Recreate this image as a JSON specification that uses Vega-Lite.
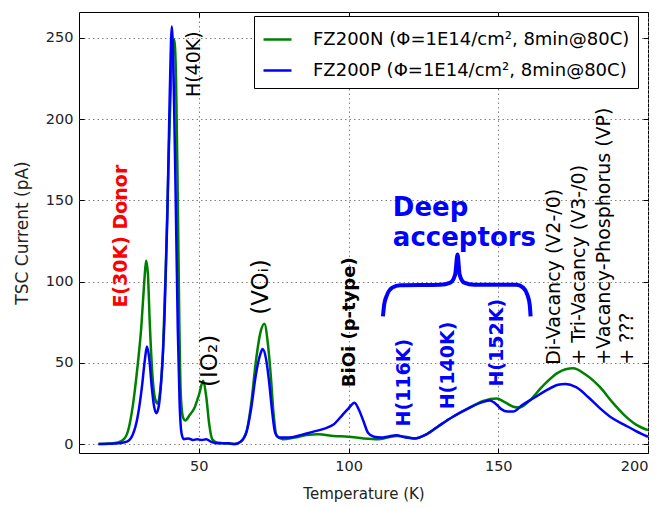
{
  "$schema": "https://vega.github.io/schema/vega-lite/v6.json",
  "width": 569,
  "height": 441,
  "autosize": {"type": "none"},
  "padding": {"left": 79, "top": 12, "right": 17, "bottom": 55},
  "config": {
    "view": {"stroke": "#000", "strokeWidth": 1},
    "font": "DejaVu Sans",
    "axis": {
      "labelFont": "DejaVu Sans", "labelFontSize": 14.5, "labelColor": "#222",
      "titleFont": "DejaVu Sans", "titleFontSize": 15, "titleFontWeight": "normal", "titleColor": "#222",
      "domain": false, "tickColor": "#000", "tickSize": -5, "tickWidth": 1,
      "gridColor": "#808080", "gridDash": [1.5, 3], "gridWidth": 1
    }
  },
  "datasets": {
    "tsc": [
      {"T":16.5,"I":0,"s":"FZ200N (Φ=1E14/cm², 8min@80C)"},{"T":20,"I":0.3,"s":"FZ200N (Φ=1E14/cm², 8min@80C)"},{"T":23,"I":1,"s":"FZ200N (Φ=1E14/cm², 8min@80C)"},{"T":25,"I":3,"s":"FZ200N (Φ=1E14/cm², 8min@80C)"},{"T":26.5,"I":9,"s":"FZ200N (Φ=1E14/cm², 8min@80C)"},{"T":28,"I":24,"s":"FZ200N (Φ=1E14/cm², 8min@80C)"},{"T":29.5,"I":47,"s":"FZ200N (Φ=1E14/cm², 8min@80C)"},{"T":30.8,"I":72,"s":"FZ200N (Φ=1E14/cm², 8min@80C)"},{"T":31.8,"I":100,"s":"FZ200N (Φ=1E14/cm², 8min@80C)"},{"T":32.4,"I":113,"s":"FZ200N (Φ=1E14/cm², 8min@80C)"},{"T":33,"I":105,"s":"FZ200N (Φ=1E14/cm², 8min@80C)"},{"T":33.6,"I":76,"s":"FZ200N (Φ=1E14/cm², 8min@80C)"},{"T":34.5,"I":43,"s":"FZ200N (Φ=1E14/cm², 8min@80C)"},{"T":35.4,"I":28,"s":"FZ200N (Φ=1E14/cm², 8min@80C)"},{"T":36.2,"I":25,"s":"FZ200N (Φ=1E14/cm², 8min@80C)"},{"T":37,"I":31,"s":"FZ200N (Φ=1E14/cm², 8min@80C)"},{"T":38,"I":55,"s":"FZ200N (Φ=1E14/cm², 8min@80C)"},{"T":39,"I":110,"s":"FZ200N (Φ=1E14/cm², 8min@80C)"},{"T":40,"I":180,"s":"FZ200N (Φ=1E14/cm², 8min@80C)"},{"T":41,"I":235,"s":"FZ200N (Φ=1E14/cm², 8min@80C)"},{"T":41.8,"I":249,"s":"FZ200N (Φ=1E14/cm², 8min@80C)"},{"T":42.4,"I":225,"s":"FZ200N (Φ=1E14/cm², 8min@80C)"},{"T":43,"I":150,"s":"FZ200N (Φ=1E14/cm², 8min@80C)"},{"T":43.5,"I":75,"s":"FZ200N (Φ=1E14/cm², 8min@80C)"},{"T":44,"I":30,"s":"FZ200N (Φ=1E14/cm², 8min@80C)"},{"T":44.8,"I":16,"s":"FZ200N (Φ=1E14/cm², 8min@80C)"},{"T":45.5,"I":14.5,"s":"FZ200N (Φ=1E14/cm², 8min@80C)"},{"T":47,"I":18,"s":"FZ200N (Φ=1E14/cm², 8min@80C)"},{"T":48.5,"I":22,"s":"FZ200N (Φ=1E14/cm², 8min@80C)"},{"T":50,"I":30,"s":"FZ200N (Φ=1E14/cm², 8min@80C)"},{"T":51.5,"I":39,"s":"FZ200N (Φ=1E14/cm², 8min@80C)"},{"T":52.5,"I":29,"s":"FZ200N (Φ=1E14/cm², 8min@80C)"},{"T":53.5,"I":12,"s":"FZ200N (Φ=1E14/cm², 8min@80C)"},{"T":54.5,"I":3,"s":"FZ200N (Φ=1E14/cm², 8min@80C)"},{"T":56,"I":1,"s":"FZ200N (Φ=1E14/cm², 8min@80C)"},{"T":58,"I":0.5,"s":"FZ200N (Φ=1E14/cm², 8min@80C)"},{"T":62,"I":0,"s":"FZ200N (Φ=1E14/cm², 8min@80C)"},{"T":64,"I":1.5,"s":"FZ200N (Φ=1E14/cm², 8min@80C)"},{"T":66,"I":8,"s":"FZ200N (Φ=1E14/cm², 8min@80C)"},{"T":67.5,"I":25,"s":"FZ200N (Φ=1E14/cm², 8min@80C)"},{"T":69,"I":50,"s":"FZ200N (Φ=1E14/cm², 8min@80C)"},{"T":70.5,"I":68,"s":"FZ200N (Φ=1E14/cm², 8min@80C)"},{"T":71.9,"I":74,"s":"FZ200N (Φ=1E14/cm², 8min@80C)"},{"T":73,"I":63,"s":"FZ200N (Φ=1E14/cm², 8min@80C)"},{"T":74,"I":43,"s":"FZ200N (Φ=1E14/cm², 8min@80C)"},{"T":75,"I":18,"s":"FZ200N (Φ=1E14/cm², 8min@80C)"},{"T":76,"I":5,"s":"FZ200N (Φ=1E14/cm², 8min@80C)"},{"T":78,"I":3,"s":"FZ200N (Φ=1E14/cm², 8min@80C)"},{"T":82,"I":4,"s":"FZ200N (Φ=1E14/cm², 8min@80C)"},{"T":86,"I":5.5,"s":"FZ200N (Φ=1E14/cm², 8min@80C)"},{"T":90,"I":6,"s":"FZ200N (Φ=1E14/cm², 8min@80C)"},{"T":95,"I":5,"s":"FZ200N (Φ=1E14/cm², 8min@80C)"},{"T":100,"I":4.5,"s":"FZ200N (Φ=1E14/cm², 8min@80C)"},{"T":105,"I":3.5,"s":"FZ200N (Φ=1E14/cm², 8min@80C)"},{"T":110,"I":3,"s":"FZ200N (Φ=1E14/cm², 8min@80C)"},{"T":113,"I":4,"s":"FZ200N (Φ=1E14/cm², 8min@80C)"},{"T":116,"I":5,"s":"FZ200N (Φ=1E14/cm², 8min@80C)"},{"T":119,"I":4.5,"s":"FZ200N (Φ=1E14/cm², 8min@80C)"},{"T":122,"I":3.5,"s":"FZ200N (Φ=1E14/cm², 8min@80C)"},{"T":126,"I":6,"s":"FZ200N (Φ=1E14/cm², 8min@80C)"},{"T":130,"I":11,"s":"FZ200N (Φ=1E14/cm², 8min@80C)"},{"T":135,"I":17,"s":"FZ200N (Φ=1E14/cm², 8min@80C)"},{"T":140,"I":22,"s":"FZ200N (Φ=1E14/cm², 8min@80C)"},{"T":145,"I":26.5,"s":"FZ200N (Φ=1E14/cm², 8min@80C)"},{"T":149.5,"I":28,"s":"FZ200N (Φ=1E14/cm², 8min@80C)"},{"T":152,"I":26,"s":"FZ200N (Φ=1E14/cm², 8min@80C)"},{"T":155,"I":23,"s":"FZ200N (Φ=1E14/cm², 8min@80C)"},{"T":157,"I":22.5,"s":"FZ200N (Φ=1E14/cm², 8min@80C)"},{"T":160,"I":26,"s":"FZ200N (Φ=1E14/cm², 8min@80C)"},{"T":165,"I":36,"s":"FZ200N (Φ=1E14/cm², 8min@80C)"},{"T":170,"I":44,"s":"FZ200N (Φ=1E14/cm², 8min@80C)"},{"T":175,"I":46.6,"s":"FZ200N (Φ=1E14/cm², 8min@80C)"},{"T":179,"I":43,"s":"FZ200N (Φ=1E14/cm², 8min@80C)"},{"T":184,"I":35,"s":"FZ200N (Φ=1E14/cm², 8min@80C)"},{"T":188,"I":26,"s":"FZ200N (Φ=1E14/cm², 8min@80C)"},{"T":192,"I":18,"s":"FZ200N (Φ=1E14/cm², 8min@80C)"},{"T":196,"I":12,"s":"FZ200N (Φ=1E14/cm², 8min@80C)"},{"T":200,"I":8.6,"s":"FZ200N (Φ=1E14/cm², 8min@80C)"},
      {"T":16.5,"I":0,"s":"FZ200P (Φ=1E14/cm², 8min@80C)"},{"T":20,"I":0.2,"s":"FZ200P (Φ=1E14/cm², 8min@80C)"},{"T":23,"I":0.5,"s":"FZ200P (Φ=1E14/cm², 8min@80C)"},{"T":26,"I":1.5,"s":"FZ200P (Φ=1E14/cm², 8min@80C)"},{"T":28,"I":6,"s":"FZ200P (Φ=1E14/cm², 8min@80C)"},{"T":29.5,"I":16,"s":"FZ200P (Φ=1E14/cm², 8min@80C)"},{"T":31,"I":35,"s":"FZ200P (Φ=1E14/cm², 8min@80C)"},{"T":32,"I":52,"s":"FZ200P (Φ=1E14/cm², 8min@80C)"},{"T":32.7,"I":60,"s":"FZ200P (Φ=1E14/cm², 8min@80C)"},{"T":33.5,"I":52,"s":"FZ200P (Φ=1E14/cm², 8min@80C)"},{"T":34.3,"I":35,"s":"FZ200P (Φ=1E14/cm², 8min@80C)"},{"T":35,"I":24,"s":"FZ200P (Φ=1E14/cm², 8min@80C)"},{"T":35.8,"I":19,"s":"FZ200P (Φ=1E14/cm², 8min@80C)"},{"T":36.5,"I":22,"s":"FZ200P (Φ=1E14/cm², 8min@80C)"},{"T":37.5,"I":40,"s":"FZ200P (Φ=1E14/cm², 8min@80C)"},{"T":38.5,"I":75,"s":"FZ200P (Φ=1E14/cm², 8min@80C)"},{"T":39.5,"I":140,"s":"FZ200P (Φ=1E14/cm², 8min@80C)"},{"T":40.3,"I":215,"s":"FZ200P (Φ=1E14/cm², 8min@80C)"},{"T":41,"I":257,"s":"FZ200P (Φ=1E14/cm², 8min@80C)"},{"T":41.6,"I":225,"s":"FZ200P (Φ=1E14/cm², 8min@80C)"},{"T":42.3,"I":150,"s":"FZ200P (Φ=1E14/cm², 8min@80C)"},{"T":43,"I":70,"s":"FZ200P (Φ=1E14/cm², 8min@80C)"},{"T":43.6,"I":25,"s":"FZ200P (Φ=1E14/cm², 8min@80C)"},{"T":44.3,"I":6,"s":"FZ200P (Φ=1E14/cm², 8min@80C)"},{"T":45,"I":3,"s":"FZ200P (Φ=1E14/cm², 8min@80C)"},{"T":46.5,"I":3.5,"s":"FZ200P (Φ=1E14/cm², 8min@80C)"},{"T":48,"I":2.5,"s":"FZ200P (Φ=1E14/cm², 8min@80C)"},{"T":49.5,"I":3,"s":"FZ200P (Φ=1E14/cm², 8min@80C)"},{"T":51,"I":2.5,"s":"FZ200P (Φ=1E14/cm², 8min@80C)"},{"T":52.5,"I":3,"s":"FZ200P (Φ=1E14/cm², 8min@80C)"},{"T":54,"I":1.5,"s":"FZ200P (Φ=1E14/cm², 8min@80C)"},{"T":56,"I":0.5,"s":"FZ200P (Φ=1E14/cm², 8min@80C)"},{"T":60,"I":0.5,"s":"FZ200P (Φ=1E14/cm², 8min@80C)"},{"T":62,"I":0,"s":"FZ200P (Φ=1E14/cm², 8min@80C)"},{"T":64,"I":1.5,"s":"FZ200P (Φ=1E14/cm², 8min@80C)"},{"T":66,"I":8,"s":"FZ200P (Φ=1E14/cm², 8min@80C)"},{"T":67.5,"I":22,"s":"FZ200P (Φ=1E14/cm², 8min@80C)"},{"T":69,"I":42,"s":"FZ200P (Φ=1E14/cm², 8min@80C)"},{"T":70.5,"I":55,"s":"FZ200P (Φ=1E14/cm², 8min@80C)"},{"T":71.3,"I":58.5,"s":"FZ200P (Φ=1E14/cm², 8min@80C)"},{"T":72.5,"I":52,"s":"FZ200P (Φ=1E14/cm², 8min@80C)"},{"T":73.5,"I":38,"s":"FZ200P (Φ=1E14/cm², 8min@80C)"},{"T":74.5,"I":20,"s":"FZ200P (Φ=1E14/cm², 8min@80C)"},{"T":75.5,"I":7,"s":"FZ200P (Φ=1E14/cm², 8min@80C)"},{"T":77,"I":4,"s":"FZ200P (Φ=1E14/cm², 8min@80C)"},{"T":80,"I":4,"s":"FZ200P (Φ=1E14/cm², 8min@80C)"},{"T":84,"I":5.5,"s":"FZ200P (Φ=1E14/cm², 8min@80C)"},{"T":88,"I":7.5,"s":"FZ200P (Φ=1E14/cm², 8min@80C)"},{"T":92,"I":9.5,"s":"FZ200P (Φ=1E14/cm², 8min@80C)"},{"T":95,"I":12,"s":"FZ200P (Φ=1E14/cm², 8min@80C)"},{"T":98,"I":18,"s":"FZ200P (Φ=1E14/cm², 8min@80C)"},{"T":100,"I":22,"s":"FZ200P (Φ=1E14/cm², 8min@80C)"},{"T":102,"I":25.5,"s":"FZ200P (Φ=1E14/cm², 8min@80C)"},{"T":103.5,"I":21,"s":"FZ200P (Φ=1E14/cm², 8min@80C)"},{"T":105,"I":14,"s":"FZ200P (Φ=1E14/cm², 8min@80C)"},{"T":106.5,"I":7,"s":"FZ200P (Φ=1E14/cm², 8min@80C)"},{"T":108.5,"I":4.5,"s":"FZ200P (Φ=1E14/cm², 8min@80C)"},{"T":111,"I":4,"s":"FZ200P (Φ=1E14/cm², 8min@80C)"},{"T":113,"I":4.5,"s":"FZ200P (Φ=1E14/cm², 8min@80C)"},{"T":116,"I":5.5,"s":"FZ200P (Φ=1E14/cm², 8min@80C)"},{"T":119,"I":4,"s":"FZ200P (Φ=1E14/cm², 8min@80C)"},{"T":122,"I":3.5,"s":"FZ200P (Φ=1E14/cm², 8min@80C)"},{"T":126,"I":6,"s":"FZ200P (Φ=1E14/cm², 8min@80C)"},{"T":130,"I":11,"s":"FZ200P (Φ=1E14/cm², 8min@80C)"},{"T":135,"I":17,"s":"FZ200P (Φ=1E14/cm², 8min@80C)"},{"T":140,"I":22,"s":"FZ200P (Φ=1E14/cm², 8min@80C)"},{"T":145,"I":26,"s":"FZ200P (Φ=1E14/cm², 8min@80C)"},{"T":147.2,"I":26.8,"s":"FZ200P (Φ=1E14/cm², 8min@80C)"},{"T":149,"I":25,"s":"FZ200P (Φ=1E14/cm², 8min@80C)"},{"T":151,"I":21.5,"s":"FZ200P (Φ=1E14/cm², 8min@80C)"},{"T":153,"I":20,"s":"FZ200P (Φ=1E14/cm², 8min@80C)"},{"T":155,"I":20,"s":"FZ200P (Φ=1E14/cm², 8min@80C)"},{"T":158,"I":24,"s":"FZ200P (Φ=1E14/cm², 8min@80C)"},{"T":162,"I":28.5,"s":"FZ200P (Φ=1E14/cm², 8min@80C)"},{"T":166,"I":33,"s":"FZ200P (Φ=1E14/cm², 8min@80C)"},{"T":170,"I":36.5,"s":"FZ200P (Φ=1E14/cm², 8min@80C)"},{"T":172.3,"I":37,"s":"FZ200P (Φ=1E14/cm², 8min@80C)"},{"T":176,"I":35,"s":"FZ200P (Φ=1E14/cm², 8min@80C)"},{"T":180,"I":29,"s":"FZ200P (Φ=1E14/cm², 8min@80C)"},{"T":184,"I":22,"s":"FZ200P (Φ=1E14/cm², 8min@80C)"},{"T":188,"I":16,"s":"FZ200P (Φ=1E14/cm², 8min@80C)"},{"T":192,"I":12,"s":"FZ200P (Φ=1E14/cm², 8min@80C)"},{"T":196,"I":8,"s":"FZ200P (Φ=1E14/cm², 8min@80C)"},{"T":200,"I":4.5,"s":"FZ200P (Φ=1E14/cm², 8min@80C)"}
    ],
    "brace": [
      {"T":111.5,"I":78.6},{"T":111.9,"I":85.8},{"T":112.9,"I":92},{"T":114.6,"I":96.3},{"T":117.3,"I":97.8},{"T":130.6,"I":98.1},{"T":134,"I":99.4},{"T":135.6,"I":104.3},{"T":136.4,"I":116.7},{"T":137.1,"I":104.3},{"T":138.6,"I":99.4},{"T":142,"I":98.1},{"T":156,"I":98.1},{"T":158.3,"I":96.3},{"T":159.7,"I":92},{"T":160.5,"I":85.8},{"T":160.8,"I":78.6}
    ]
  },
  "resolve": {"axis": {"x": "independent", "y": "independent"}},
  "layer": [
    {
      "data": {"name": "tsc"},
      "mark": {"type": "line", "strokeWidth": 2.5, "interpolate": "monotone"},
      "encoding": {
        "x": {"field": "T", "type": "quantitative", "scale": {"domain": [10, 200], "nice": false, "zero": false},
              "axis": {"values": [50, 100, 150, 200], "title": "Temperature (K)", "labelPadding": 11, "titlePadding": 14}},
        "y": {"field": "I", "type": "quantitative", "scale": {"domain": [-5.5, 266], "nice": false, "zero": false},
              "axis": {"values": [0, 50, 100, 150, 200, 250], "title": "TSC Current (pA)", "titleFontSize": 17, "labelPadding": 11, "titlePadding": 14}},
        "color": {"field": "s", "type": "nominal",
                  "scale": {"domain": ["FZ200N (Φ=1E14/cm², 8min@80C)", "FZ200P (Φ=1E14/cm², 8min@80C)"], "range": ["#008000", "#0000ff"]},
                  "legend": {"title": null, "orient": "none", "legendX": 175, "legendY": 4, "strokeColor": "#000", "fillColor": "#fff",
                             "padding": 8, "cornerRadius": 0, "labelFont": "DejaVu Sans", "labelFontSize": 18, "labelColor": "#000",
                             "labelLimit": 400, "symbolType": "stroke", "symbolSize": 784, "symbolStrokeWidth": 2.5,
                             "labelOffset": 20, "rowPadding": 6}}
      }
    },
    {
      "data": {"name": "tsc"},
      "mark": {"type": "point", "opacity": 0},
      "encoding": {
        "x": {"field": "T", "type": "quantitative", "axis": {"orient": "top", "values": [50, 100, 150, 200], "labels": false, "grid": false, "title": null}},
        "y": {"field": "I", "type": "quantitative", "axis": {"orient": "right", "values": [0, 50, 100, 150, 200, 250], "labels": false, "grid": false, "title": null}}
      }
    },
    {
      "data": {"name": "brace"},
      "mark": {"type": "line", "color": "#0000ff", "strokeWidth": 4, "interpolate": "monotone"},
      "encoding": {
        "x": {"field": "T", "type": "quantitative", "axis": null},
        "y": {"field": "I", "type": "quantitative", "axis": null}
      }
    },
    {
      "data": {"values": [{"T": 24.0, "I": 84, "label": "E(30K) Donor"}]},
      "mark": {"type": "text", "angle": 270, "align": "left", "baseline": "middle", "font": "DejaVu Sans", "fontSize": 19, "fontWeight": "bold", "color": "#ff0000"},
      "encoding": {
        "x": {"field": "T", "type": "quantitative", "axis": null},
        "y": {"field": "I", "type": "quantitative", "axis": null},
        "text": {"field": "label"}
      }
    },
    {
      "data": {"values": [
        {"T": 48.3, "I": 213.6, "label": "H(40K)"},
        {"T": 168.5, "I": 48.8, "label": "Di-Vacancy (V2-/0)"},
        {"T": 177.0, "I": 48.8, "label": "+ Tri-Vacancy (V3-/0)"},
        {"T": 185.4, "I": 48.8, "label": "+Vacancy-Phosphorus (VP)"},
        {"T": 193.0, "I": 48.8, "label": "+ ???"}
      ]},
      "mark": {"type": "text", "angle": 270, "align": "left", "baseline": "middle", "font": "DejaVu Sans", "fontSize": 19, "color": "#000"},
      "encoding": {
        "x": {"field": "T", "type": "quantitative", "axis": null},
        "y": {"field": "I", "type": "quantitative", "axis": null},
        "text": {"field": "label"}
      }
    },
    {
      "data": {"values": [
        {"T": 53.6, "I": 35.2, "label": "(IO₂)"},
        {"T": 70.8, "I": 79.6, "label": "(VOᵢ)"}
      ]},
      "mark": {"type": "text", "angle": 270, "align": "left", "baseline": "middle", "font": "DejaVu Sans", "fontSize": 23, "color": "#000"},
      "encoding": {
        "x": {"field": "T", "type": "quantitative", "axis": null},
        "y": {"field": "I", "type": "quantitative", "axis": null},
        "text": {"field": "label"}
      }
    },
    {
      "data": {"values": [{"T": 100.5, "I": 35, "label": "BiOi (p-type)"}]},
      "mark": {"type": "text", "angle": 270, "align": "left", "baseline": "middle", "font": "DejaVu Sans", "fontSize": 18, "fontWeight": "bold", "color": "#000"},
      "encoding": {
        "x": {"field": "T", "type": "quantitative", "axis": null},
        "y": {"field": "I", "type": "quantitative", "axis": null},
        "text": {"field": "label"}
      }
    },
    {
      "data": {"values": [
        {"T": 118.5, "I": 10.8, "label": "H(116K)"},
        {"T": 133.3, "I": 21.4, "label": "H(140K)"},
        {"T": 149.7, "I": 35.4, "label": "H(152K)"}
      ]},
      "mark": {"type": "text", "angle": 270, "align": "left", "baseline": "middle", "font": "DejaVu Sans", "fontSize": 19, "fontWeight": "bold", "color": "#0000ff"},
      "encoding": {
        "x": {"field": "T", "type": "quantitative", "axis": null},
        "y": {"field": "I", "type": "quantitative", "axis": null},
        "text": {"field": "label"}
      }
    },
    {
      "data": {"values": [
        {"T": 114.8, "I": 140.3, "label": "Deep"},
        {"T": 114.8, "I": 121.8, "label": "acceptors"}
      ]},
      "mark": {"type": "text", "align": "left", "baseline": "alphabetic", "font": "DejaVu Sans", "fontSize": 26, "fontWeight": "bold", "color": "#0000ff"},
      "encoding": {
        "x": {"field": "T", "type": "quantitative", "axis": null},
        "y": {"field": "I", "type": "quantitative", "axis": null},
        "text": {"field": "label"}
      }
    }
  ]
}
